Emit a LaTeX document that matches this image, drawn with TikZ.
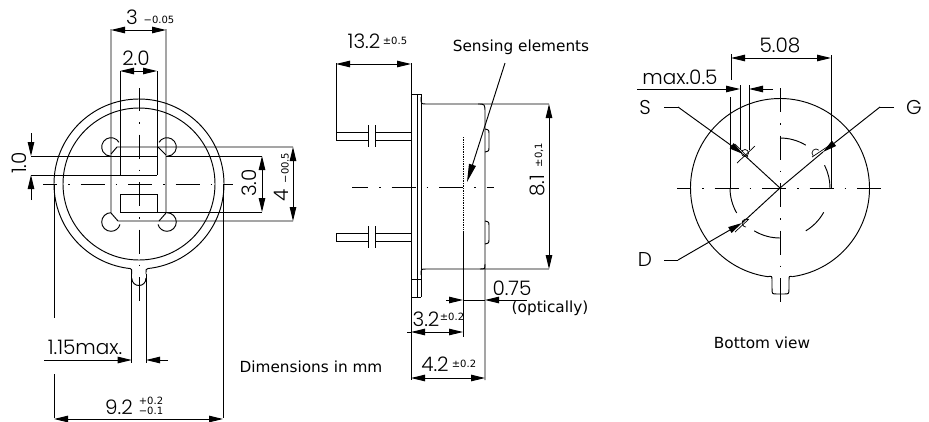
\documentclass[tikz,border=0pt]{standalone}
\usepackage{fontspec}
\usetikzlibrary{arrows.meta}
\newfontfamily\cadfont{Poppins Light}
\newfontfamily\capfont{DejaVu Sans}
\tikzset{
  >={Triangle[length=14pt,width=6.5pt]},
  dimlabel/.style={font=\cadfont\fontsize{20}{20}\selectfont,inner sep=0pt},
  tollabel/.style={font=\capfont\fontsize{10}{10}\selectfont,inner sep=0pt},
  caplabel/.style={font=\capfont\fontsize{15.3}{16}\selectfont,inner sep=0pt},
  centreline/.style={dash pattern=on 24pt off 11pt on 1.5pt off 11pt},
}
\begin{document}
\begin{tikzpicture}[x=1pt,y=1pt,line width=0.95pt]
  \useasboundingbox (0,-421) rectangle (929,0);

  \draw (139,-184) +(276:85) arc (276:624:85) .. controls (131.7,-269) .. (131.7,-274);
  \draw (148,-268.5) .. controls (146,-269) .. (146,-274);
  \draw (139,-184) circle (76);
  \draw (131.7,-274) -- (131.7,-363);
  \draw (146,-274) -- (146,-363);
  \draw (131.7,-278) .. controls (132,-288) and (146,-288) .. (146,-278);
  \foreach \cx/\cy/\from/\to in {111/147/30/270,167/147/150/-90,111/222/90/345,167/222/90/-165}
    \draw (\cx,-\cy) +(\from:9.3) arc (\from:\to:9.3);
  \draw (111,-29) -- (111,-213) -- (118,-221) -- (293,-221);
  \draw (166,-29) -- (166,-213) -- (159,-221);
  \draw (111,-154) -- (117,-147) -- (293,-147);
  \draw (158,-147) -- (166,-155);
  \draw (31,-156) -- (158,-156);
  \draw (166,-156) -- (262,-156);
  \draw (31,-175) -- (157,-175);
  \draw (120,-71) -- (120,-175);
  \draw (157,-71) -- (157,-175);
  \draw (120,-194) rectangle (157,-212);
  \draw (157,-212) -- (262,-212);
  \draw[centreline,dash phase=10pt] (43,-184) -- (233,-184);
  \draw[centreline,dash phase=1pt] (139,-88) -- (139,-302);
  \draw (54,-184) -- (54,-318);
  \draw (54,-374) -- (54,-418);
  \draw (223,-184) -- (223,-418);
  \draw[<->] (111,-30) -- (166,-30);
  \draw[<->] (120,-71) -- (157,-71);
  \draw[<->] (262,-156) -- (262,-212);
  \draw[<->] (293,-147) -- (293,-221);
  \draw[<->] (54,-419) -- (223,-419);
  \draw[->] (31,-133) -- (31,-156);
  \draw[->] (31,-200) -- (31,-175);
  \draw[->] (44,-360) -- (131.7,-360);
  \draw[->] (168,-360) -- (146,-360);
  \node[dimlabel] (threeval) at (132,-17) {3};
  \node[tollabel] (threetol) at (159,-20) {−0.05};
  \node[dimlabel] (twoval) at (136,-58) {2.0};
  \node[dimlabel,rotate=90] (oneval) at (19,-163) {1.0};
  \node[dimlabel,rotate=90] (threeoval) at (249,-183) {3.0};
  \node[dimlabel,rotate=90] (fourval) at (281,-195) {4};
  \node[tollabel,rotate=90] (fourtol) at (285,-168) {−00.5};
  \node[dimlabel] (pinval) at (85,-347) {1.15max.};
  \node[dimlabel] (widthval) at (119,-407) {9.2};
  \node[tollabel] (widthup) at (151,-401) {+0.2};
  \node[tollabel] (widthdown) at (151,-411) {−0.1};

  \draw (411,-63) -- (411,-380);
  \draw (421,-94) -- (421,-297);
  \draw (417,-94) -- (417,-297);
  \draw (411,-94) -- (421,-94);
  \draw (411,-279) -- (421,-279);
  \draw (411,-297) -- (421,-297);
  \draw (421,-97) .. controls (421,-104) .. (426,-104) -- (549,-104);
  \draw (478,-104) .. controls (485,-104) .. (485,-113) -- (485,-380);
  \draw (421,-275) .. controls (421,-269) .. (426,-269) -- (549,-269);
  \draw (485,-264) .. controls (485,-269) .. (480,-269);
  \foreach \ytop in {129,221}
    \draw (485,-\ytop) .. controls (489,-\ytop-1) .. (489,-\ytop-5) -- (489,-\ytop-18) .. controls (489,-\ytop-22) .. (485,-\ytop-23);
  \foreach \ytop in {132,233} {
    \draw (411,-\ytop) -- (375,-\ytop);
    \draw (411,-\ytop-8) -- (375,-\ytop-8);
    \draw (368,-\ytop) -- (336,-\ytop) -- (336,-\ytop-8) -- (368,-\ytop-8);
    \draw (368,-\ytop+7) -- (368,-\ytop-15);
    \draw (375,-\ytop+7) -- (375,-\ytop-15);
  }
  \draw (336,-63) -- (336,-132);
  \draw[line width=0.7pt,densely dotted] (463,-137) -- (463,-233);
  \draw (463,-233) -- (463,-337);
  \draw[centreline,dash phase=8pt] (352,-187) -- (494,-187);
  \draw[<->] (336,-64) -- (411,-64);
  \draw[<->] (549,-104) -- (549,-269);
  \draw[<->] (411,-332) -- (463,-332);
  \draw (407,-332) -- (411,-332);
  \draw[<->] (411,-378) -- (485,-378);
  \draw[->] (446,-300) -- (463,-300);
  \draw (463,-300) -- (485,-300);
  \draw[->] (527,-300) -- (485,-300);
  \draw[-{Triangle[length=18pt,width=7pt]}] (505,-63) -- (467,-182);
  \node[dimlabel] (leadval) at (364,-41) {13.2};
  \node[tollabel] (leadtol) at (395,-41) {±0.5};
  \node[caplabel] (sensing) at (521,-47) {Sensing elements};
  \node[dimlabel,rotate=90] (bodyval) at (537,-186) {8.1};
  \node[tollabel,rotate=90] (bodytol) at (539,-155) {±0,1};
  \node[dimlabel] (optval) at (512,-288) {0.75};
  \node[caplabel] (optnote) at (550,-308) {(optically)};
  \node[dimlabel] (depthval) at (426,-319) {3.2};
  \node[tollabel] (depthtol) at (452,-317) {±0.2};
  \node[dimlabel] (totalval) at (435,-364) {4.2};
  \node[tollabel] (totaltol) at (464,-364) {±0.2};
  \node[caplabel] (units) at (311,-367) {Dimensions in mm};

  \draw (780,-188) +(278:89.5) arc (278:622:89.5) .. controls (772,-276) .. (772,-280);
  \draw (792.5,-276.6) .. controls (789,-276) .. (789,-280);
  \draw (772,-280) -- (772,-288) .. controls (772,-294) .. (777,-294) -- (784,-294) .. controls (789,-294) .. (789,-288) -- (789,-280);
  \foreach \from/\to in {90/59,27/0,-29/-59,239/270,180/210}
    \draw (780,-188) +(\from:50) arc (\from:\to:50);
  \draw[centreline,dash phase=10pt] (677,-188) -- (882,-188);
  \draw[centreline,dash phase=0pt] (780,-88) -- (780,-309);
  \draw (731,-54) -- (731,-80);
  \draw (730,-97) -- (730,-188);
  \draw (831,-55) -- (831,-188);
  \draw (740,-85) -- (740,-150);
  \draw (749,-85) -- (749,-150);
  \draw[<->] (731,-58) -- (831,-58);
  \draw[->] (637,-89) -- (740,-89);
  \draw[->] (773,-89) -- (749,-89);
  \draw (664,-107) -- (678,-107);
  \draw[->] (678,-107) -- (743,-154);
  \draw (743,-154) -- (780,-188);
  \draw (894,-107) -- (880,-107);
  \draw[->] (880,-107) -- (823,-152);
  \draw (823,-152) -- (780,-188);
  \draw (664,-260) -- (678,-260);
  \draw[->] (678,-260) -- (742,-223);
  \draw (742,-223) -- (780,-188);
  \draw[line width=0.7pt] (745,-153) circle (3.5);
  \draw[line width=0.7pt] (735,-144) -- (748,-157);
  \draw[line width=0.7pt] (737,-163) -- (755,-146);
  \draw[line width=0.7pt] (816,-153) +(45:4) arc (45:225:4);
  \draw[line width=0.7pt] (812,-157) -- (830,-145);
  \draw[line width=0.7pt] (746,-223) +(60:4) arc (60:270:4);
  \draw[line width=0.7pt] (735,-232) -- (749,-219);
  \node[dimlabel] (pitchval) at (780,-45) {5.08};
  \node[dimlabel] (maxval) at (680,-77) {max.0.5};
  \node[dimlabel] (pinS) at (645,-107) {S};
  \node[dimlabel] (pinG) at (914,-107) {G};
  \node[dimlabel] (pinD) at (645,-260) {D};
  \node[caplabel] (viewname) at (762,-343) {Bottom view};
\end{tikzpicture}
\end{document}
